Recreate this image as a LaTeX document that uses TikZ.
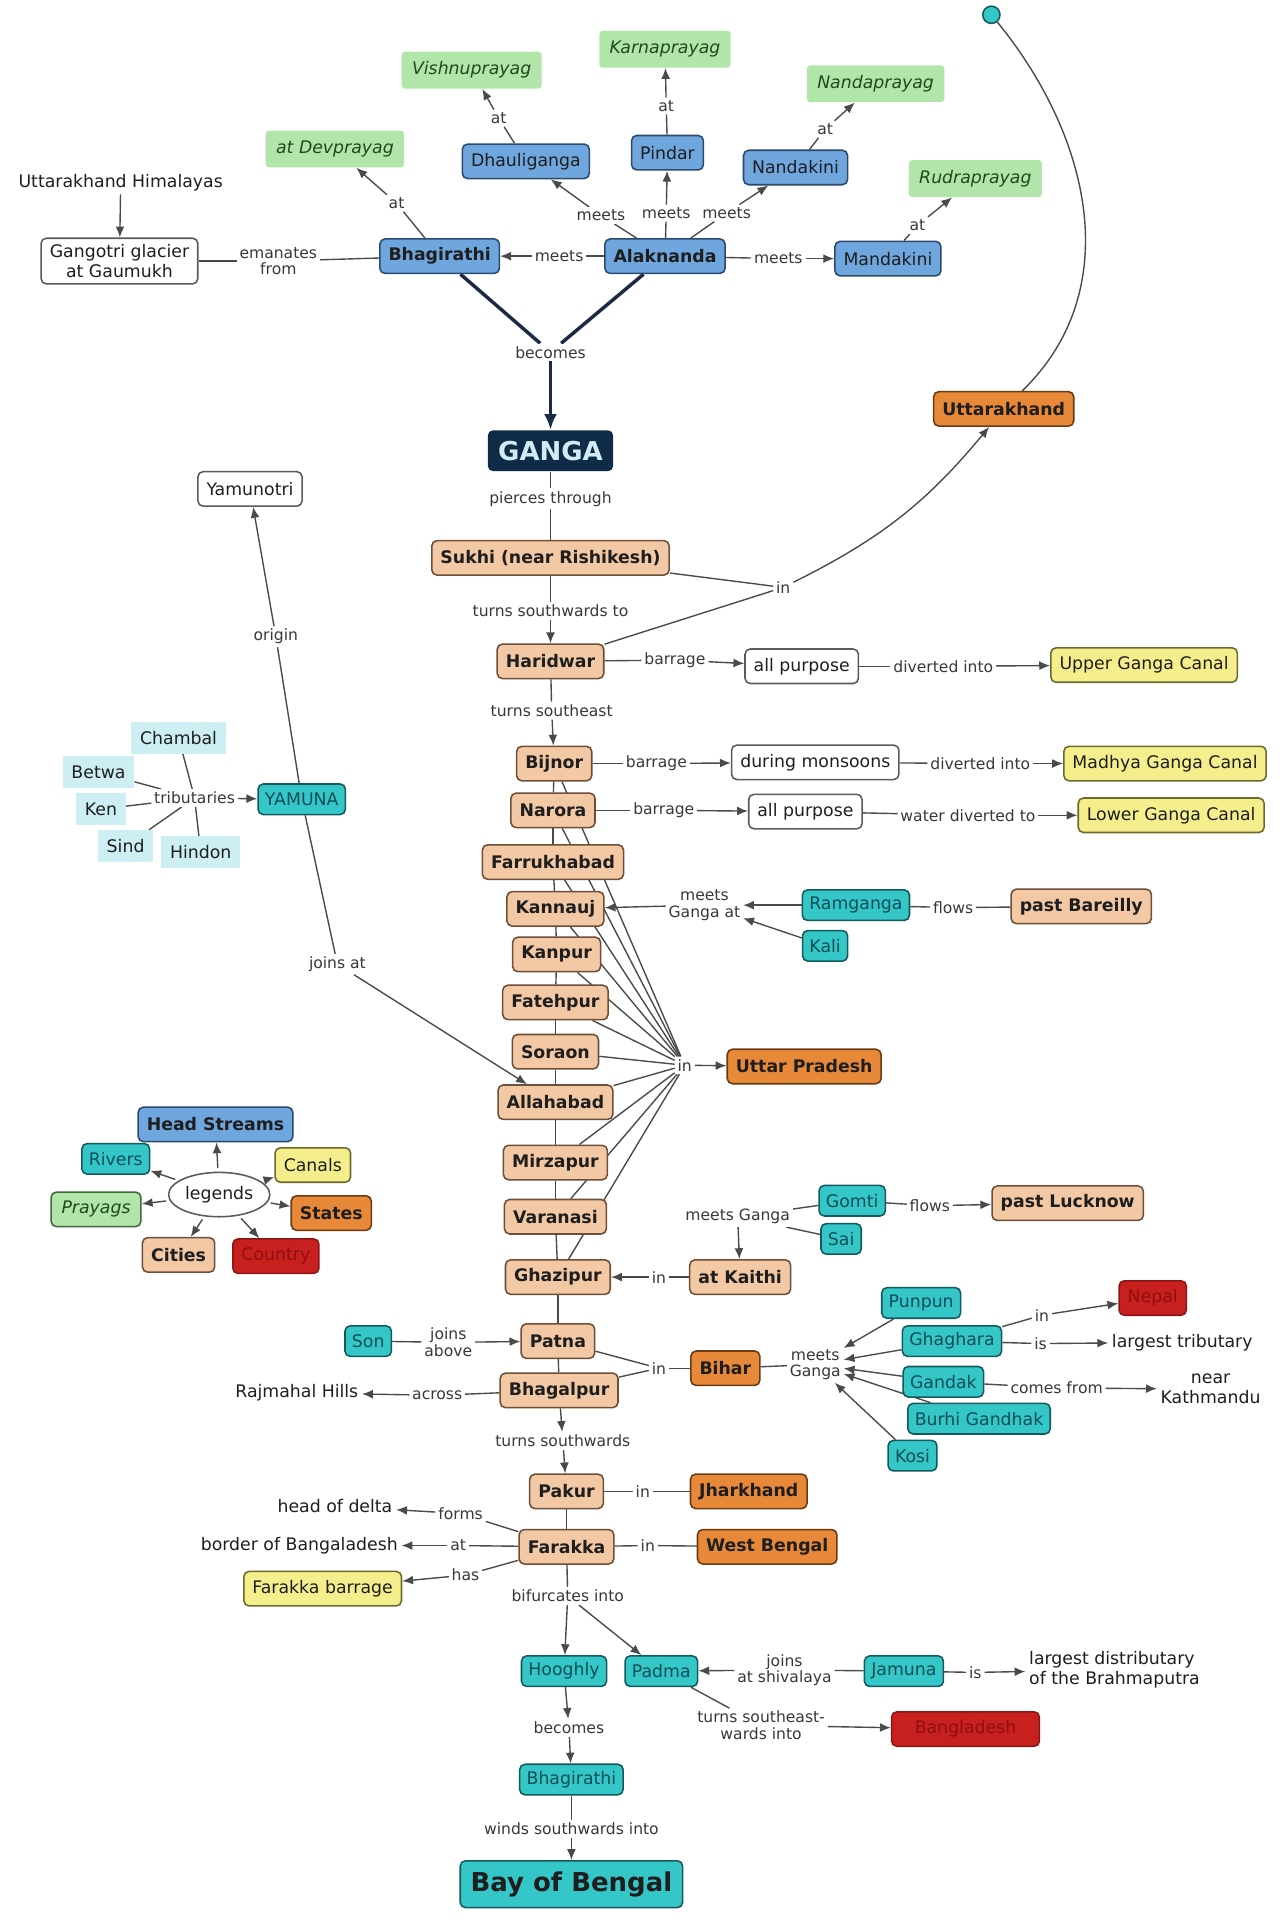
\documentclass[tikz,border=0pt]{standalone}
\usepackage{fontspec}
\setmainfont{DejaVu Sans}
\usepackage{tikz}
\usetikzlibrary{arrows.meta,positioning,backgrounds,shapes.geometric}
\definecolor{Ink}{HTML}{1E1E1E}
\definecolor{Muted}{HTML}{383838}
\definecolor{LinkGray}{HTML}{4A4A4A}
\definecolor{Navy}{HTML}{1C2A44}
\definecolor{HeadFill}{HTML}{6FA6DE}
\definecolor{HeadLine}{HTML}{2B4B6E}
\definecolor{PrayagFill}{HTML}{B2E5AA}
\definecolor{PrayagLine}{HTML}{3E6B38}
\definecolor{PrayagText}{HTML}{1F4A1A}
\definecolor{CityFill}{HTML}{F3C9A5}
\definecolor{CityLine}{HTML}{6E4E36}
\definecolor{StateFill}{HTML}{E8893A}
\definecolor{StateLine}{HTML}{6A3A12}
\definecolor{CanalFill}{HTML}{F4EF8C}
\definecolor{CanalLine}{HTML}{6C6A2A}
\definecolor{RiverFill}{HTML}{35C6C8}
\definecolor{RiverLine}{HTML}{145A5C}
\definecolor{RiverText}{HTML}{0E4F58}
\definecolor{TribFill}{HTML}{CDEFF4}
\definecolor{CountryFill}{HTML}{C8201E}
\definecolor{CountryText}{HTML}{8E1010}
\definecolor{GangaFill}{HTML}{0F2B45}
\definecolor{GangaText}{HTML}{D2ECF7}
\definecolor{PlainLine}{HTML}{5A5A5A}
\tikzset{
  box/.style={draw,rounded corners=3pt,line width=0.9pt,minimum height=7mm,inner xsep=5pt,align=center,font=\fontsize{10}{12}\selectfont,text=Ink},
  citybox/.style={box,fill=CityFill,draw=CityLine,font=\fontsize{10}{12}\selectfont\bfseries},
  statebox/.style={citybox,fill=StateFill,draw=StateLine},
  headbox/.style={box,fill=HeadFill,draw=HeadLine},
  headboxbold/.style={headbox,font=\fontsize{10}{12}\selectfont\bfseries},
  prayagbox/.style={fill=PrayagFill,rounded corners=2pt,minimum height=7.5mm,inner xsep=6pt,text=PrayagText,font=\fontsize{10}{12}\selectfont\itshape},
  riverbox/.style={box,fill=RiverFill,draw=RiverLine,text=RiverText,minimum height=6.2mm,inner xsep=4pt},
  tribbox/.style={fill=TribFill,minimum height=6.5mm,inner xsep=5pt,font=\fontsize{10}{12}\selectfont,text=Ink},
  canalbox/.style={box,fill=CanalFill,draw=CanalLine},
  countrybox/.style={box,fill=CountryFill,draw=CountryFill!70!black,text=CountryText},
  plainbox/.style={box,fill=white,draw=PlainLine},
  note/.style={align=center,font=\fontsize{10}{11.5}\selectfont,text=Ink,inner sep=2pt},
  lbl/.style={align=center,font=\fontsize{9}{9.5}\selectfont,text=Muted,inner sep=1.5pt,fill=white},
  link/.style={draw=LinkGray,line width=0.8pt},
  arrow/.style={link,-{Latex[length=2.2mm,width=1.8mm]}},
  thickLink/.style={draw=Navy,line width=2pt},
  thickArrow/.style={thickLink,-{Latex[length=3.2mm,width=2.6mm]}}
}
\begin{document}
\begin{tikzpicture}[x=0.25mm,y=-0.25mm]
\useasboundingbox (0,0) rectangle (1039,1568);
\node[circle,draw=RiverLine,fill=RiverFill,line width=0.9pt,minimum size=3.5mm,inner sep=0pt] (dot) at (805,12) {};
\node[prayagbox] (vishnu) at (383,57) {Vishnuprayag};
\node[prayagbox] (karna) at (540,40) {Karnaprayag};
\node[prayagbox] (nanda) at (711,68) {Nandaprayag};
\node[prayagbox] (dev) at (272,121) {at Devprayag};
\node[prayagbox] (rudra) at (792,145) {Rudraprayag};
\node[headbox] (dhauli) at (427,131) {Dhauliganga};
\node[headbox] (pindar) at (542,124) {Pindar};
\node[headbox] (nandak) at (646,136) {Nandakini};
\node[note] (himal) at (98,148) {Uttarakhand Himalayas};
\node[plainbox] (gangotri) at (97,212) {Gangotri glacier\\at Gaumukh};
\node[headboxbold] (bhag) at (357,208) {Bhagirathi};
\node[headboxbold] (alak) at (540,208) {Alaknanda};
\node[headbox] (mandak) at (721,210) {Mandakini};
\node[lbl] (lEman) at (226,212) {emanates\\from};
\node[lbl] (lDev) at (322,165) {at};
\node[lbl] (lVish) at (405,96) {at};
\node[lbl] (lKarna) at (541,86) {at};
\node[lbl] (lNanda) at (670,105) {at};
\node[lbl] (lRudra) at (745,183) {at};
\node[lbl] (lMeetA) at (488,175) {meets};
\node[lbl] (lMeetB) at (541,173) {meets};
\node[lbl] (lMeetC) at (590,173) {meets};
\node[lbl] (lMeetBh) at (454,208) {meets};
\node[lbl] (lMeetMa) at (632,210) {meets};
\node[lbl] (lBecomes) at (447,286) {becomes};
\node[fill=GangaFill,text=GangaText,rounded corners=3pt,font=\fontsize{15}{18}\selectfont\bfseries,minimum height=8.3mm,inner xsep=6pt] (ganga) at (447,366) {GANGA};
\node[statebox] (uttarakhand) at (815,332) {Uttarakhand};
\node[plainbox] (yamunotri) at (203,397) {Yamunotri};
\node[lbl] (lPierce) at (447,405) {pierces through};
\node[citybox] (sukhi) at (447,453) {Sukhi (near Rishikesh)};
\node[lbl] (lInUk) at (636,477) {in};
\node[lbl] (lSouth) at (447,496) {turns southwards to};
\node[lbl] (lOrigin) at (224,517) {origin};
\node[citybox] (haridwar) at (447,537) {Haridwar};
\node[lbl] (lBar1) at (548,536) {barrage};
\node[plainbox] (allp1) at (651,541) {all purpose};
\node[lbl] (lDiv1) at (766,541) {diverted into};
\node[canalbox] (upper) at (929,540) {Upper Ganga Canal};
\node[lbl] (lSE) at (448,577) {turns southeast};
\node[tribbox] (chambal) at (145,599) {Chambal};
\node[tribbox] (betwa) at (80,627) {Betwa};
\node[tribbox] (ken) at (82,657) {Ken};
\node[tribbox] (sind) at (102,687) {Sind};
\node[tribbox] (hindon) at (163,692) {Hindon};
\node[lbl] (lTrib) at (158,648) {tributaries};
\node[riverbox] (yamuna) at (245,649) {YAMUNA};
\node[citybox] (bijnor) at (450,620) {Bijnor};
\node[lbl] (lBar2) at (533,620) {barrage};
\node[plainbox] (monsoon) at (662,619) {during monsoons};
\node[lbl] (lDiv2) at (796,620) {diverted into};
\node[canalbox] (madhya) at (946,620) {Madhya Ganga Canal};
\node[citybox] (narora) at (449,658) {Narora};
\node[lbl] (lBar3) at (539,658) {barrage};
\node[plainbox] (allp2) at (654,659) {all purpose};
\node[lbl] (lDiv3) at (786,662) {water diverted to};
\node[canalbox] (lower) at (951,662) {Lower Ganga Canal};
\node[citybox] (farrukh) at (449,700) {Farrukhabad};
\node[citybox] (kannauj) at (451,738) {Kannauj};
\node[lbl] (lMeetK) at (572,735) {meets\\Ganga at};
\node[riverbox] (ramganga) at (695,735) {Ramganga};
\node[lbl] (lFlows1) at (774,737) {flows};
\node[citybox] (bareilly) at (878,736) {past Bareilly};
\node[riverbox] (kali) at (670,768) {Kali};
\node[citybox] (kanpur) at (452,775) {Kanpur};
\node[lbl] (lJoins) at (274,783) {joins at};
\node[citybox] (fatehpur) at (451,814) {Fatehpur};
\node[citybox] (soraon) at (451,854) {Soraon};
\node[lbl] (lInUP) at (556,865) {in};
\node[statebox] (up) at (653,866) {Uttar Pradesh};
\node[citybox] (allahabad) at (451,895) {Allahabad};
\node[citybox] (mirzapur) at (451,944) {Mirzapur};
\node[citybox] (varanasi) at (451,988) {Varanasi};
\node[citybox] (ghazipur) at (453,1037) {Ghazipur};
\node[draw=PlainLine,ellipse,line width=0.9pt,minimum width=19mm,minimum height=9mm,inner sep=1pt,font=\fontsize{10}{12}\selectfont,text=Ink] (legends) at (178,970) {legends};
\node[headboxbold] (lgHead) at (175,913) {Head Streams};
\node[riverbox] (lgRiver) at (94,941) {Rivers};
\node[canalbox] (lgCanal) at (254,946) {Canals};
\node[prayagbox,draw=PrayagLine,line width=0.9pt,rounded corners=3pt,minimum height=7mm] (lgPrayag) at (78,982) {Prayags};
\node[statebox] (lgState) at (269,985) {States};
\node[citybox] (lgCity) at (145,1019) {Cities};
\node[countrybox] (lgCountry) at (224,1020) {Country};
\node[lbl] (lMeetG) at (599,988) {meets Ganga};
\node[riverbox] (gomti) at (692,975) {Gomti};
\node[lbl] (lFlows2) at (755,979) {flows};
\node[citybox] (lucknow) at (867,977) {past Lucknow};
\node[riverbox] (sai) at (683,1006) {Sai};
\node[citybox] (kaithi) at (601,1037) {at Kaithi};
\node[lbl] (lInGz) at (535,1037) {in};
\node[riverbox] (punpun) at (748,1058) {Punpun};
\node[countrybox] (nepal) at (936,1054) {Nepal};
\node[lbl] (lInNp) at (846,1068) {in};
\node[riverbox] (ghaghara) at (773,1089) {Ghaghara};
\node[lbl] (lIsT) at (845,1091) {is};
\node[note] (largestT) at (960,1090) {largest tributary};
\node[riverbox] (son) at (299,1089) {Son};
\node[lbl] (lJoinAb) at (364,1090) {joins\\above};
\node[citybox] (patna) at (453,1089) {Patna};
\node[lbl] (lInBh) at (535,1111) {in};
\node[statebox] (bihar) at (589,1111) {Bihar};
\node[lbl] (lMeetBh2) at (662,1108) {meets\\Ganga};
\node[riverbox] (gandak) at (766,1122) {Gandak};
\node[lbl] (lComes) at (858,1127) {comes from};
\node[note] (kathmandu) at (983,1128) {near\\Kathmandu};
\node[note] (rajmahal) at (241,1131) {Rajmahal Hills};
\node[lbl] (lAcross) at (355,1133) {across};
\node[citybox] (bhagalpur) at (454,1129) {Bhagalpur};
\node[riverbox] (burhi) at (795,1152) {Burhi Gandhak};
\node[riverbox] (kosi) at (741,1182) {Kosi};
\node[lbl] (lTurnS) at (457,1170) {turns southwards};
\node[citybox] (pakur) at (460,1211) {Pakur};
\node[lbl] (lInJh) at (522,1211) {in};
\node[statebox] (jharkhand) at (608,1211) {Jharkhand};
\node[note] (delta) at (272,1223) {head of delta};
\node[lbl] (lForms) at (374,1229) {forms};
\node[note] (border) at (243,1255) {border of Bangaladesh};
\node[lbl] (lAtB) at (372,1255) {at};
\node[citybox] (farakka) at (460,1256) {Farakka};
\node[lbl] (lInWB) at (526,1255) {in};
\node[statebox] (westbengal) at (623,1256) {West Bengal};
\node[lbl] (lHas) at (378,1279) {has};
\node[canalbox] (barrage) at (262,1290) {Farakka barrage};
\node[lbl] (lBifur) at (461,1296) {bifurcates into};
\node[riverbox] (hooghly) at (458,1357) {Hooghly};
\node[riverbox] (padma) at (537,1357) {Padma};
\node[lbl] (lJoinSh) at (637,1356) {joins\\at shivalaya};
\node[riverbox] (jamuna) at (734,1357) {Jamuna};
\node[lbl] (lIsD) at (792,1358) {is};
\node[note,align=left] (distrib) at (905,1356) {largest distributary\\of the Brahmaputra};
\node[lbl] (lTurnSE) at (618,1401) {turns southeast-\\wards into};
\node[countrybox,minimum width=30mm] (bangladesh) at (784,1404) {Bangladesh};
\node[lbl] (lBecomes2) at (462,1403) {becomes};
\node[riverbox] (bhagT) at (464,1445) {Bhagirathi};
\node[lbl] (lWinds) at (464,1485) {winds southwards into};
\node[riverbox,text=Ink,font=\fontsize{15}{18}\selectfont\bfseries,minimum height=9.5mm,inner xsep=6pt] (bay) at (464,1530) {Bay of Bengal};
\begin{scope}[on background layer]
\fill[white] (0,0) rectangle (1039,1568);
\draw[arrow] (himal)--(gangotri);
\draw[link] (bhag)--(lEman);\draw[link] (lEman)--(gangotri);
\draw[link] (bhag)--(lDev);\draw[arrow] (lDev)--(dev);
\draw[link] (alak)--(lMeetBh);\draw[arrow] (lMeetBh)--(bhag);
\draw[link] (alak)--(lMeetA);\draw[arrow] (lMeetA)--(dhauli);
\draw[link] (alak)--(lMeetB);\draw[arrow] (lMeetB)--(pindar);
\draw[link] (alak)--(lMeetC);\draw[arrow] (lMeetC)--(nandak);
\draw[link] (dhauli)--(lVish);\draw[arrow] (lVish)--(vishnu);
\draw[link] (pindar)--(lKarna);\draw[arrow] (lKarna)--(karna);
\draw[link] (nandak)--(lNanda);\draw[arrow] (lNanda)--(nanda);
\draw[link] (alak)--(lMeetMa);\draw[arrow] (lMeetMa)--(mandak);
\draw[link] (mandak)--(lRudra);\draw[arrow] (lRudra)--(rudra);
\draw[thickLink] (bhag)--(lBecomes);\draw[thickLink] (alak)--(lBecomes);
\draw[thickArrow] (lBecomes)--(ganga);
\draw[link] (ganga)--(lPierce);\draw[link] (lPierce)--(sukhi);
\draw[link] (sukhi)--(lInUk);\draw[link] (haridwar)--(lInUk);
\draw[link] (sukhi)--(lSouth);\draw[arrow] (lSouth)--(haridwar);
\draw[arrow] (lInUk) to[bend right=12] (uttarakhand);
\draw[link] (dot) .. controls (885,110) and (915,235) .. (uttarakhand);
\draw[link] (haridwar)--(lBar1);\draw[arrow] (lBar1)--(allp1);
\draw[link] (allp1)--(lDiv1);\draw[arrow] (lDiv1)--(upper);
\draw[link] (haridwar)--(lSE);\draw[arrow] (lSE)--(bijnor);
\draw[link] (bijnor)--(lBar2);\draw[arrow] (lBar2)--(monsoon);
\draw[link] (monsoon)--(lDiv2);\draw[arrow] (lDiv2)--(madhya);
\draw[link] (narora)--(lBar3);\draw[arrow] (lBar3)--(allp2);
\draw[link] (allp2)--(lDiv3);\draw[arrow] (lDiv3)--(lower);
\foreach \a/\b in {bijnor/narora,narora/farrukh,farrukh/kannauj,kannauj/kanpur,kanpur/fatehpur,fatehpur/soraon,soraon/allahabad,allahabad/mirzapur,mirzapur/varanasi,varanasi/ghazipur,ghazipur/patna,patna/bhagalpur,pakur/farakka}
  \draw[link] (\a)--(\b);
\foreach \c in {bijnor,narora,farrukh,kannauj,kanpur,fatehpur,soraon,allahabad,mirzapur,varanasi,ghazipur}
  \draw[link] (\c)--(lInUP);
\draw[arrow] (lInUP)--(up);
\draw[arrow] (ramganga)--(lMeetK);\draw[arrow] (kali)--(lMeetK);\draw[arrow] (lMeetK)--(kannauj);
\draw[link] (ramganga)--(lFlows1);\draw[link] (lFlows1)--(bareilly);
\draw[link] (yamuna)--(lOrigin);\draw[arrow] (lOrigin)--(yamunotri);
\foreach \t in {chambal,betwa,ken,sind,hindon}
  \draw[link] (\t)--(lTrib);
\draw[arrow] (lTrib)--(yamuna);
\draw[link] (yamuna)--(lJoins);\draw[arrow] (lJoins)--(allahabad);
\foreach \t in {lgHead,lgRiver,lgCanal,lgPrayag,lgState,lgCity,lgCountry}
  \draw[arrow,shorten <=2pt] (legends)--(\t);
\draw[link] (gomti)--(lMeetG);\draw[link] (sai)--(lMeetG);\draw[arrow] (lMeetG)--(kaithi);
\draw[link] (gomti)--(lFlows2);\draw[arrow] (lFlows2)--(lucknow);
\draw[link] (kaithi)--(lInGz);\draw[arrow] (lInGz)--(ghazipur);
\draw[link] (patna)--(lInBh);\draw[link] (bhagalpur)--(lInBh);\draw[link] (lInBh)--(bihar);
\draw[link] (bihar)--(lMeetBh2);
\foreach \r in {punpun,ghaghara,gandak,burhi,kosi}
  \draw[arrow] (\r)--(lMeetBh2);
\draw[link] (ghaghara)--(lInNp);\draw[arrow] (lInNp)--(nepal);
\draw[link] (ghaghara)--(lIsT);\draw[arrow] (lIsT)--(largestT);
\draw[link] (gandak)--(lComes);\draw[arrow] (lComes)--(kathmandu);
\draw[link] (son)--(lJoinAb);\draw[arrow] (lJoinAb)--(patna);
\draw[link] (bhagalpur)--(lAcross);\draw[arrow] (lAcross)--(rajmahal);
\draw[arrow] (bhagalpur)--(lTurnS);\draw[arrow] (lTurnS)--(pakur);
\draw[link] (pakur)--(lInJh);\draw[link] (lInJh)--(jharkhand);
\draw[link] (farakka)--(lForms);\draw[arrow] (lForms)--(delta);
\draw[link] (farakka)--(lAtB);\draw[arrow] (lAtB)--(border);
\draw[link] (farakka)--(lHas);\draw[arrow] (lHas)--(barrage);
\draw[link] (farakka)--(lInWB);\draw[link] (lInWB)--(westbengal);
\draw[link] (farakka)--(lBifur);\draw[arrow] (lBifur)--(hooghly);\draw[arrow] (lBifur)--(padma);
\draw[link] (jamuna)--(lJoinSh);\draw[arrow] (lJoinSh)--(padma);
\draw[link] (jamuna)--(lIsD);\draw[arrow] (lIsD)--(distrib);
\draw[link] (padma)--(lTurnSE);\draw[arrow] (lTurnSE)--(bangladesh);
\draw[arrow] (hooghly)--(lBecomes2);\draw[arrow] (lBecomes2)--(bhagT);
\draw[link] (bhagT)--(lWinds);\draw[arrow] (lWinds)--(bay);
\end{scope}
\end{tikzpicture}
\end{document}
